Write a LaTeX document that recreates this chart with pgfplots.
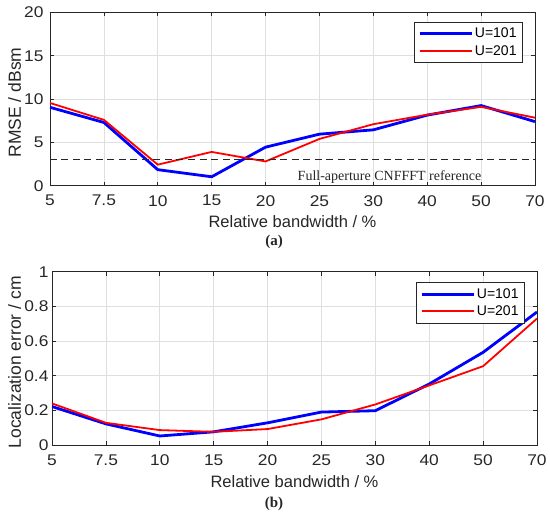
\documentclass[border=0pt]{standalone}
\usepackage{pgfplots}
\pgfplotsset{compat=1.18}
\usepackage{fontspec}
\setmainfont{Liberation Sans}
\newfontfamily\tickfont{Liberation Sans}[FakeStretch=1.12]
\newfontfamily\seriffont{Liberation Serif}
\definecolor{gridc}{RGB}{223,223,223}
\definecolor{axc}{RGB}{38,38,38}
\begin{document}
\begin{tikzpicture}
\pgfplotsset{
  every axis/.append style={
    scale only axis, width=485pt, height=173.2pt,
    xmin=0, xmax=9, xtick={0,...,9},
    xticklabels={5,7.5,10,15,20,25,30,40,50,70},
    grid=major, major grid style={gridc, line width=0.6pt},
    axis line style={axc, line width=0.6pt},
    tick style={axc, line width=0.6pt},
    major tick length=4pt,
    tick label style={font=\tickfont\fontsize{15.5}{18}\selectfont, text=axc},
    /pgf/number format/assume math mode=true,
    label style={font=\fontsize{16.5}{19}\selectfont, text=axc},
    ylabel style={font=\fontsize{17.5}{20}\selectfont},
    xticklabel style={yshift=-6pt},
    xlabel style={at={(axis description cs:0.5,-0.2096)}, anchor=center},
    legend style={font=\fontsize{14}{16}\selectfont, draw=axc, line width=0.6pt, fill=white, cells={anchor=west}, row sep=2pt, inner sep=4pt},
    legend image code/.code={\draw[#1] (0pt,0pt) -- (52pt,0pt);},
  }
}
\useasboundingbox (0,0) rectangle (550pt,518pt);
\begin{axis}[at={(50pt,332.3pt)}, anchor=south west,
  ymin=0, ymax=20, ytick={0,5,10,15,20},
  yticklabel style={xshift=-3pt},
  xlabel={Relative bandwidth / \%}, ylabel={RMSE / dBsm},
  ylabel style={at={(axis description cs:-0.0732,0.48)}, anchor=center},
  legend style={at={(0.975,0.947)}, anchor=north east}]
\addplot[blue, line width=2.8pt] coordinates {(0,9.05)(1,7.3)(2,1.85)(3,1.03)(4,4.45)(5,5.95)(6,6.45)(7,8.15)(8,9.25)(9,7.4)};
\addlegendentry{U=101}
\addplot[red, line width=1.8pt] coordinates {(0,9.55)(1,7.6)(2,2.43)(3,3.9)(4,2.8)(5,5.4)(6,7.1)(7,8.2)(8,9.1)(9,7.85)};
\addlegendentry{U=201}
\addplot[black!85, line width=0.7pt, dash pattern=on 7pt off 4.5pt, forget plot] coordinates {(0,3)(9,3)};
\node[font=\seriffont\fontsize{14}{16}\selectfont, text=axc] at (axis cs:6.3,1.0) {Full-aperture CNFFFT reference};
\end{axis}
\node[font=\seriffont\bfseries\fontsize{15}{17}\selectfont, text=axc] at (274pt,276pt) {(a)};
\begin{axis}[at={(52pt,73pt)}, anchor=south west,
  ymin=0, ymax=1, ytick={0,0.2,0.4,0.6,0.8,1},
  yticklabel style={xshift=0pt},
  xlabel={Relative bandwidth / \%}, ylabel={Localization error / cm},
  ylabel style={at={(axis description cs:-0.0773,0.477)}, anchor=center},
  legend style={at={(0.975,0.94)}, anchor=north east}]
\addplot[blue, line width=2.8pt] coordinates {(0,0.222)(1,0.122)(2,0.052)(3,0.076)(4,0.128)(5,0.19)(6,0.198)(7,0.352)(8,0.535)(9,0.768)};
\addlegendentry{U=101}
\addplot[red, line width=1.8pt] coordinates {(0,0.24)(1,0.128)(2,0.086)(3,0.076)(4,0.092)(5,0.148)(6,0.234)(7,0.344)(8,0.455)(9,0.73)};
\addlegendentry{U=201}
\end{axis}
\node[font=\seriffont\bfseries\fontsize{15}{17}\selectfont, text=axc] at (274pt,14pt) {(b)};
\end{tikzpicture}
\end{document}
